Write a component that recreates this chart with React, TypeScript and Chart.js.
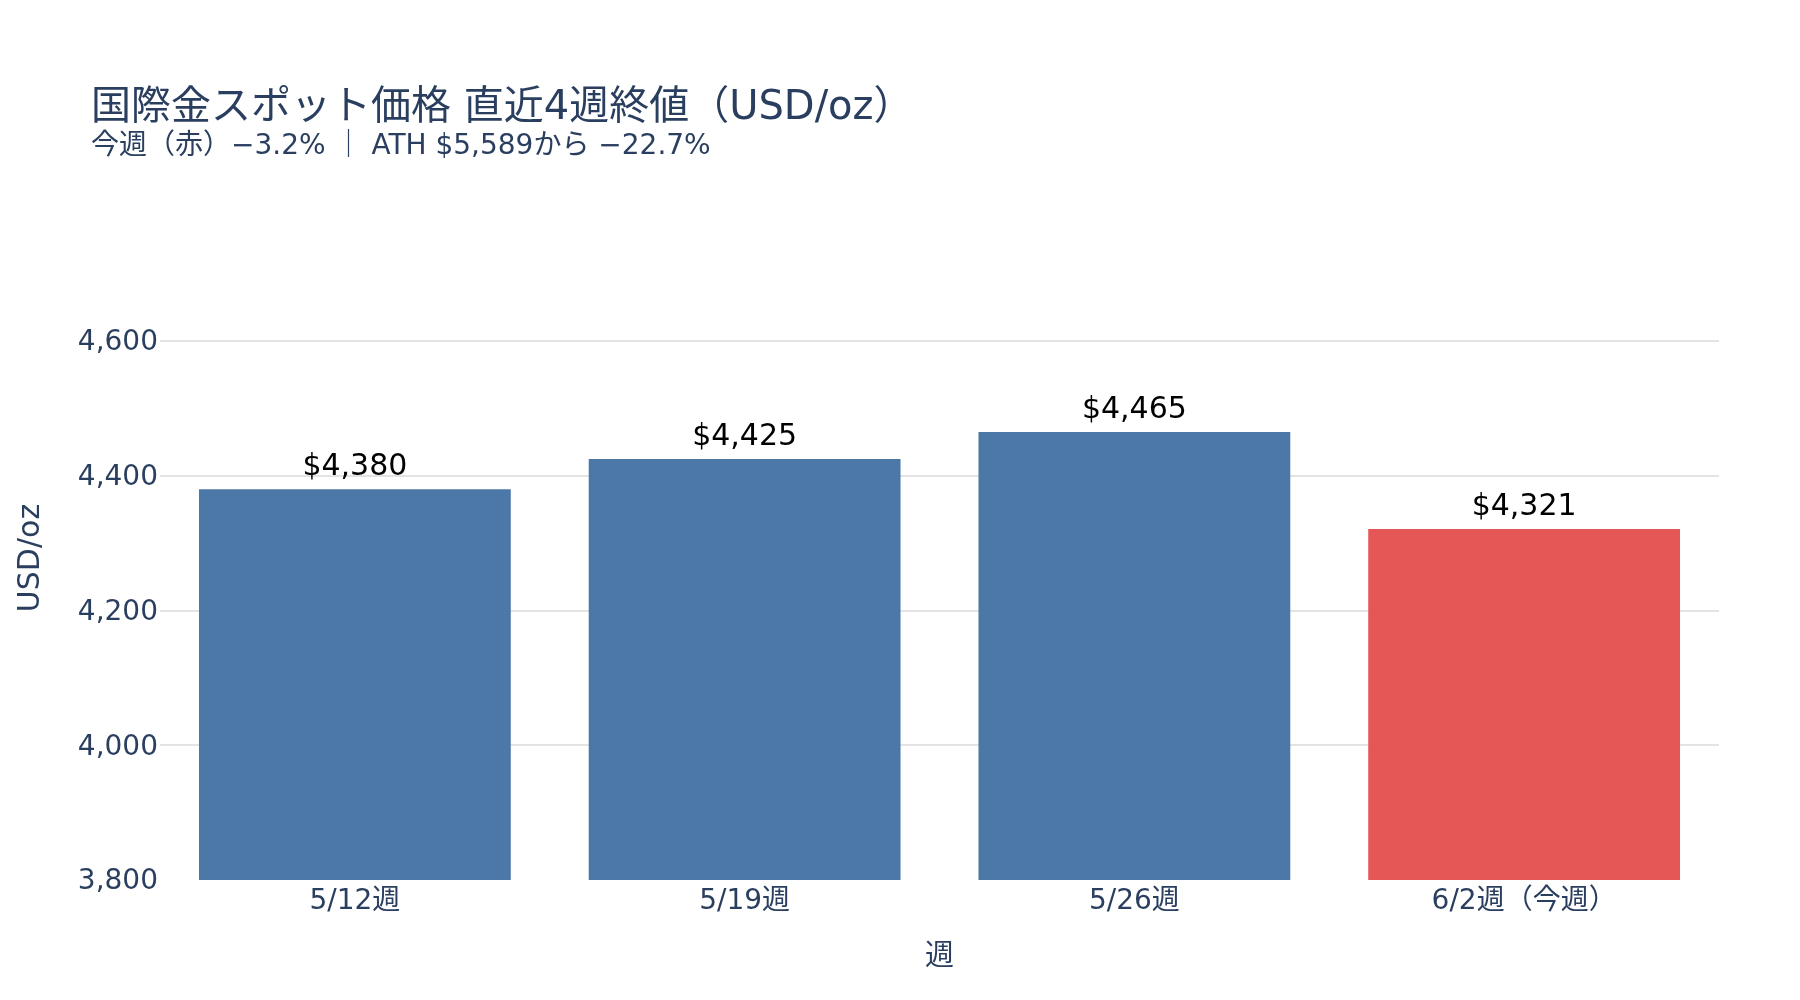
import React, { useEffect, useRef } from "react";
import { Chart, registerables } from "chart.js";

Chart.register(...registerables);

const categories = ["5/12週", "5/19週", "5/26週", "6/2週（今週）"];
const closeValues = [4380, 4425, 4465, 4321];
const barColors = ["#4C78A8", "#4C78A8", "#4C78A8", "#E45756"];
const valueLabels = ["$4,380", "$4,425", "$4,465", "$4,321"];
const yTicks = [3800, 4000, 4200, 4400, 4600];
const yMin = 3800;
const yMax = 4756;
const titleText = "国際金スポット価格 直近4週終値（USD/oz）";
const subtitleText = "今週（赤）−3.2% ｜ ATH $5,589から −22.7%";
const xTitle = "週";
const yTitle = "USD/oz";

const FONT = '"DejaVu Sans", "Noto Sans CJK JP", sans-serif';
const TEXT = "#2a3f5f";

const overlayPlugin = {
  id: "overlay",
  afterDatasetsDraw(chart: any) {
    const ctx = chart.ctx;
    const meta = chart.getDatasetMeta(0);
    ctx.save();
    ctx.font = `30px ${FONT}`;
    ctx.fillStyle = "#000000";
    ctx.textAlign = "center";
    ctx.textBaseline = "alphabetic";
    meta.data.forEach((bar: any, i: number) => {
      ctx.fillText(valueLabels[i], bar.x, bar.y - 14);
    });
    ctx.fillStyle = TEXT;
    ctx.textAlign = "left";
    ctx.textBaseline = "middle";
    ctx.font = `40px ${FONT}`;
    ctx.fillText(titleText, 91, 109);
    ctx.font = `28px ${FONT}`;
    ctx.fillText(subtitleText, 91, 147);
    ctx.restore();
  },
};

export default function App() {
  const ref = useRef<HTMLCanvasElement | null>(null);

  useEffect(() => {
    document.body.style.margin = "0";
    const canvas = ref.current;
    if (!canvas) return;
    Chart.defaults.font.family = FONT;
    const chart = new Chart(canvas, {
      type: "bar",
      data: {
        labels: categories,
        datasets: [
          {
            data: closeValues,
            backgroundColor: barColors,
            borderWidth: 0,
            categoryPercentage: 0.8,
            barPercentage: 1.0,
          },
        ],
      },
      options: {
        responsive: false,
        animation: false,
        layout: { padding: { top: 236, right: 81, left: 0, bottom: 0 } },
        plugins: {
          legend: { display: false },
          tooltip: { enabled: false },
          title: { display: false },
        },
        scales: {
          x: {
            grid: { display: false },
            border: { display: false },
            ticks: { color: TEXT, font: { size: 28, family: FONT }, padding: -3 },
            title: {
              display: true,
              text: xTitle,
              color: TEXT,
              font: { size: 29, family: FONT },
              padding: { top: 0, bottom: 25 },
            },
            afterFit: (scale: any) => {
              scale.height = 120;
            },
          },
          y: {
            min: yMin,
            max: yMax,
            border: { display: false },
            grid: {
              drawTicks: false,
              lineWidth: 2,
              color: (c: any) => (c.tick && c.tick.value === yMin ? "rgba(0,0,0,0)" : "#e3e3e3"),
            },
            ticks: {
              color: TEXT,
              font: { size: 28, family: FONT },
              padding: 2,
              labelOffset: 2,
              callback: (v: any) => Number(v).toLocaleString("en-US"),
            },
            afterBuildTicks: (scale: any) => {
              scale.ticks = yTicks.map((v) => ({ value: v }));
            },
            title: {
              display: true,
              text: yTitle,
              color: TEXT,
              font: { size: 30, family: FONT },
              padding: { top: 13, bottom: 0 },
            },
            afterFit: (scale: any) => {
              scale.width = 160;
            },
          },
        },
      },
      plugins: [overlayPlugin],
    });
    return () => chart.destroy();
  }, []);

  return (
    <div style={{ width: 1800, height: 1000, background: "#ffffff" }}>
      <canvas ref={ref} width={1800} height={1000} />
    </div>
  );
}
